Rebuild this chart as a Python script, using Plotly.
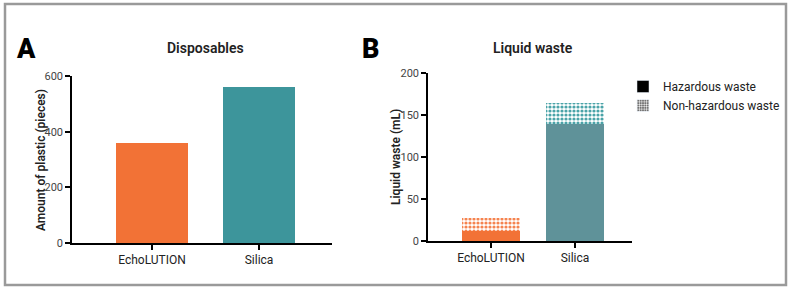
import plotly.graph_objects as go

categories = ["EchoLUTION", "Silica"]
disposables = [358, 560]
hazardous = [12, 139]
non_hazardous = [15, 25]

orange = "#F27236"
tealA = "#3D959B"
tealB = "#5F9299"
tealPat = "#4AA3A8"
orangePat = "#F5834F"

W, H = 790, 287
def px(x): return x / W
def py(y): return 1 - y / H

fig = go.Figure()
fig.add_trace(go.Bar(x=categories, y=disposables, marker=dict(color=[orange, tealA], line=dict(width=0)),
                     width=0.67, xaxis="x", yaxis="y", showlegend=False))
fig.add_trace(go.Bar(x=categories, y=hazardous, marker=dict(color=[orange, tealB], line=dict(width=0)),
                     width=0.68, xaxis="x2", yaxis="y2", showlegend=False))
fig.add_trace(go.Bar(x=categories, y=non_hazardous,
                     marker=dict(color=[orangePat, tealPat], line=dict(width=0),
                                 pattern=dict(shape=".", fgcolor="white", bgcolor=[orangePat, tealPat],
                                              size=4, solidity=0.5, fillmode="replace")),
                     width=0.68, xaxis="x2", yaxis="y2", showlegend=False))
# legend entries
fig.add_trace(go.Bar(x=[None], y=[None], name="Hazardous waste", marker=dict(color="black"),
                     xaxis="x2", yaxis="y2"))
fig.add_trace(go.Bar(x=[None], y=[None], name="Non-hazardous waste",
                     marker=dict(color="#444", pattern=dict(shape=".", fgcolor="white", bgcolor="#444",
                                                            size=3, solidity=0.5, fillmode="replace")),
                     xaxis="x2", yaxis="y2"))

font = "Roboto"
axis_common = dict(showline=True, linecolor="black", linewidth=1.5, ticks="outside", ticklen=5,
                   tickwidth=1.5, tickcolor="black", showgrid=False, zeroline=False, automargin=False,
                   tickfont=dict(family=font, size=11, color="#444"))

def ann(text, x, y, size, angle=0, color="#222", weight=500):
    return dict(text=text, x=px(x), y=py(y), xref="paper", yref="paper", showarrow=False,
                xanchor="center", yanchor="middle", textangle=angle,
                font=dict(family=font, size=size, color=color, weight=weight))

fig.update_layout(
    width=W, height=H, margin=dict(l=0, r=0, t=0, b=0, autoexpand=False),
    paper_bgcolor="white", plot_bgcolor="white", barmode="stack",
    font=dict(family=font, color="#222"),
    xaxis=dict(domain=[px(72), px(332)], range=[-0.748, 1.682], anchor="y", type="category",
               **{**axis_common, "tickfont": dict(family=font, size=12, color="#222")}),
    yaxis=dict(domain=[py(243), py(76)], range=[0, 600], tickvals=[0, 200, 400, 600], anchor="x", **axis_common),
    xaxis2=dict(domain=[px(428), px(632)], range=[-0.75, 1.679], anchor="y2", type="category",
                **{**axis_common, "tickfont": dict(family=font, size=12, color="#222")}),
    yaxis2=dict(domain=[py(241), py(73)], range=[0, 200], tickvals=[0, 50, 100, 150, 200], anchor="x2", **axis_common),
    legend=dict(x=px(623), y=py(72), xanchor="left", yanchor="top", bgcolor="rgba(0,0,0,0)",
                traceorder="normal",
                font=dict(family=font, size=12, color="#222"), tracegroupgap=4),
    annotations=[
        ann("A", 26, 49, 27, color="black", weight=900),
        ann("B", 370, 49, 27, color="black", weight=900),
        ann("Disposables", 205, 48, 14, weight=600),
        ann("Liquid waste", 533, 48, 14, weight=600),
        ann("Amount of plastic (pieces)", 41, 160, 12, angle=-90, weight=600),
        ann("Liquid waste (mL)", 396, 157, 12, angle=-90, weight=600),
    ],
    shapes=[dict(type="rect", xref="paper", yref="paper", x0=px(5), x1=px(786), y0=py(285), y1=py(4),
                 line=dict(color="#9a9a9a", width=2.5), fillcolor="rgba(0,0,0,0)", layer="below")],
)

fig.write_html("out.html", config={"displayModeBar": False},
               post_script="document.body.style.margin='0';document.body.style.overflow='hidden';")
